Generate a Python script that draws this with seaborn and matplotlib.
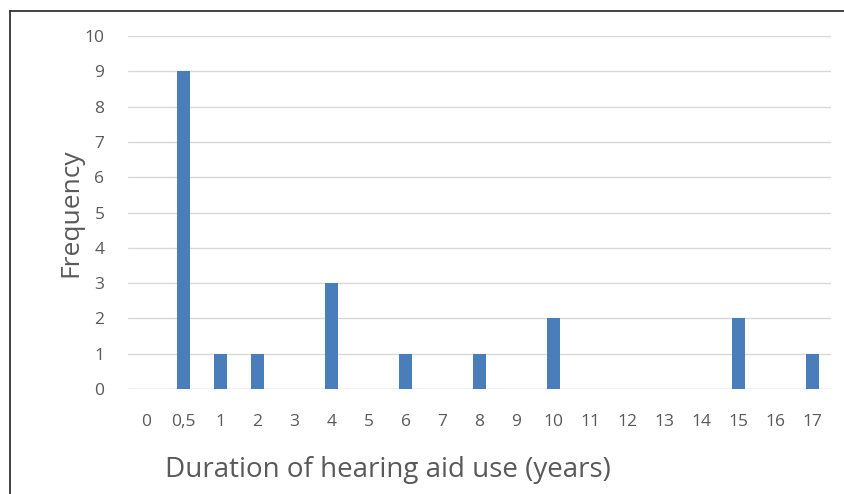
import matplotlib
matplotlib.use("Agg")
import matplotlib.pyplot as plt
import seaborn as sns
import pandas as pd

# Chart data
durations = ["0", "0,5", "1", "2", "3", "4", "5", "6", "7", "8", "9",
             "10", "11", "12", "13", "14", "15", "16", "17"]
frequency = [0, 9, 1, 1, 0, 3, 0, 1, 0, 1, 0, 2, 0, 0, 0, 0, 2, 0, 1]
y_ticks = [0, 1, 2, 3, 4, 5, 6, 7, 8, 9, 10]

df = pd.DataFrame({"duration": durations, "frequency": frequency})

sns.set_theme(style="white")
plt.rcParams['font.family'] = ['Open Sans', 'DejaVu Sans']

fig = plt.figure(figsize=(8.44, 4.94), dpi=100)
ax = fig.add_axes([0.1517, 0.2126, 0.9846 - 0.1517, 0.927 - 0.2126])

sns.barplot(data=df, x="duration", y="frequency", order=durations,
            color="#4a7ebb", saturation=1, width=0.37, linewidth=0,
            ax=ax, zorder=3)

ax.set_ylim(0, 10)
ax.set_yticks(y_ticks)
ax.set_xlim(-0.5, len(durations) - 0.5)
ax.yaxis.grid(True, color="#d9d9d9", linewidth=1, zorder=0)
ax.set_axisbelow(True)
for s in ax.spines.values():
    s.set_visible(False)
ax.axhline(0, color="#d9d9d9", linewidth=1, zorder=1)
ax.tick_params(axis="both", length=0, labelsize=12.5, labelcolor="#595959")
ax.tick_params(axis="x", pad=18)
ax.tick_params(axis="y", pad=17)

ax.set_xlabel("Duration of hearing aid use (years)", fontsize=20,
              color="#595959")
ax.xaxis.set_label_coords(0.37, -0.23, transform=ax.transAxes)
ax.xaxis.label.set_va("center")
ax.set_ylabel("Frequency", fontsize=19, color="#595959", labelpad=1)

# outer frame lines (left and top)
fig.add_artist(plt.Line2D([10 / 844, 10 / 844], [0, 1 - 11 / 494],
                          color="#333333", linewidth=1.3))
fig.add_artist(plt.Line2D([10 / 844, 1], [1 - 11 / 494, 1 - 11 / 494],
                          color="#333333", linewidth=1.3))

fig.savefig("out.png", dpi=100)
